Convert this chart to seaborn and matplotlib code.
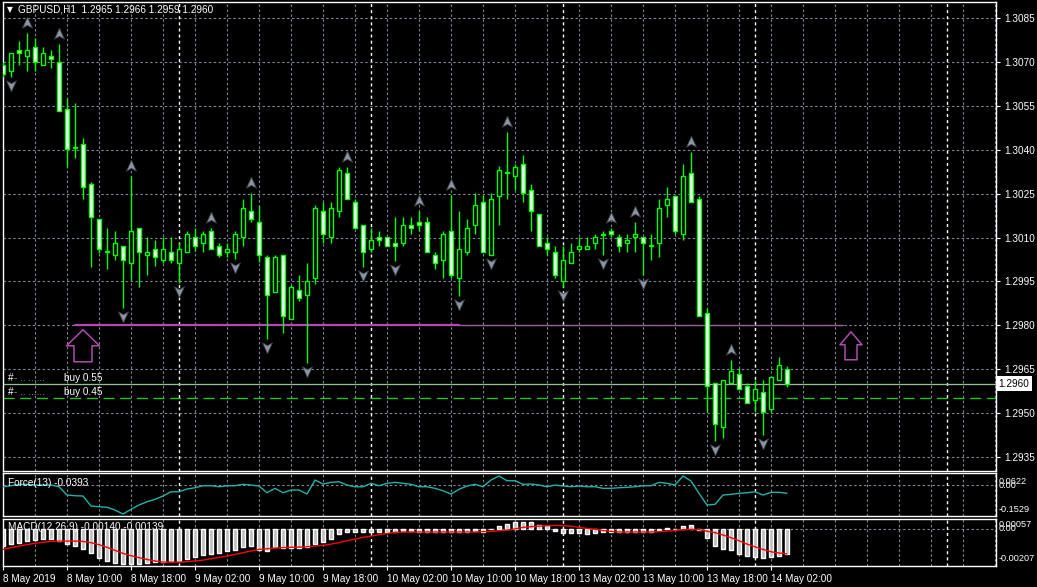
import numpy as np
import pandas as pd
import matplotlib.pyplot as plt
from matplotlib.path import Path
import seaborn as sns

# GBPUSD H1, bars from 8 May 2019 02:00 to 14 May 2019 04:00
opens = [1.30689, 1.30669, 1.30741, 1.30720, 1.30751, 1.30689, 1.30720, 1.30700, 1.30539, 1.30409,
         1.30419, 1.30283, 1.30163, 1.30050, 1.30040, 1.30071, 1.30013, 1.30132, 1.30040, 1.30061,
         1.30023, 1.30050, 1.30013, 1.30050, 1.30102, 1.30081, 1.30122, 1.30071, 1.30050, 1.30050,
         1.30102, 1.30191, 1.30153, 1.30033, 1.29914, 1.30040, 1.29821, 1.29921, 1.29903, 1.29962,
         1.30191, 1.30102, 1.30191, 1.30320, 1.30221, 1.30143, 1.30061, 1.30102, 1.30102, 1.30081,
         1.30081, 1.30143, 1.30153, 1.30153, 1.30040, 1.30023, 1.30122, 1.29962, 1.30050, 1.30143,
         1.30221, 1.30040, 1.30242, 1.30320, 1.30310, 1.30351, 1.30262, 1.30180, 1.30081, 1.30050,
         1.29951, 1.30013, 1.30061, 1.30061, 1.30081, 1.30112, 1.30122, 1.30102, 1.30081, 1.30102,
         1.30102, 1.30071, 1.30081, 1.30211, 1.30242, 1.30112, 1.30320, 1.30232, 1.29842, 1.29603,
         1.29452, 1.29603, 1.29634, 1.29592, 1.29545, 1.29572, 1.29514, 1.29613, 1.29650]
highs = [1.30700, 1.30730, 1.30771, 1.30799, 1.30782, 1.30751, 1.30741, 1.30761, 1.30577, 1.30560,
         1.30440, 1.30290, 1.30163, 1.30132, 1.30122, 1.30071, 1.30310, 1.30132, 1.30102, 1.30091,
         1.30102, 1.30102, 1.30081, 1.30122, 1.30132, 1.30122, 1.30132, 1.30081, 1.30081, 1.30122,
         1.30232, 1.30252, 1.30208, 1.30040, 1.30040, 1.30040, 1.29938, 1.29972, 1.30013, 1.30211,
         1.30221, 1.30221, 1.30341, 1.30341, 1.30232, 1.30143, 1.30132, 1.30122, 1.30102, 1.30170,
         1.30170, 1.30170, 1.30191, 1.30170, 1.30050, 1.30122, 1.30245, 1.30191, 1.30163, 1.30252,
         1.30245, 1.30252, 1.30344, 1.30460, 1.30351, 1.30382, 1.30283, 1.30180, 1.30102, 1.30071,
         1.30071, 1.30081, 1.30102, 1.30102, 1.30112, 1.30122, 1.30132, 1.30112, 1.30112, 1.30153,
         1.30102, 1.30112, 1.30232, 1.30273, 1.30242, 1.30351, 1.30392, 1.30242, 1.29859, 1.29603,
         1.29613, 1.29681, 1.29654, 1.29603, 1.29613, 1.29613, 1.29623, 1.29692, 1.29660]
lows = [1.30650, 1.30648, 1.30689, 1.30669, 1.30669, 1.30689, 1.30679, 1.30532, 1.30341, 1.30372,
        1.30232, 1.30000, 1.30047, 1.29992, 1.30023, 1.29859, 1.29955, 1.29931, 1.29972, 1.30003,
        1.30013, 1.30013, 1.29944, 1.30050, 1.30055, 1.30050, 1.30061, 1.30033, 1.30033, 1.30026,
        1.30071, 1.30153, 1.30016, 1.29753, 1.29914, 1.29774, 1.29821, 1.29883, 1.29671, 1.29941,
        1.30081, 1.30081, 1.30170, 1.30232, 1.30132, 1.29999, 1.30050, 1.30071, 1.30071, 1.30020,
        1.30071, 1.30112, 1.30122, 1.30050, 1.29992, 1.29962, 1.29962, 1.29900, 1.30040, 1.30112,
        1.30050, 1.30040, 1.30143, 1.30232, 1.30262, 1.30221, 1.30122, 1.30071, 1.30040, 1.29962,
        1.29931, 1.30013, 1.30050, 1.30061, 1.30061, 1.30040, 1.30102, 1.30050, 1.30050, 1.30050,
        1.29972, 1.30023, 1.30033, 1.30170, 1.30112, 1.30091, 1.30221, 1.29832, 1.29504, 1.29405,
        1.29415, 1.29603, 1.29582, 1.29534, 1.29504, 1.29425, 1.29504, 1.29613, 1.29590]
closes = [1.30659, 1.30730, 1.30730, 1.30741, 1.30700, 1.30730, 1.30710, 1.30532, 1.30402, 1.30405,
          1.30273, 1.30170, 1.30061, 1.30053, 1.30081, 1.30023, 1.30122, 1.30050, 1.30050, 1.30033,
          1.30061, 1.30023, 1.30061, 1.30112, 1.30071, 1.30112, 1.30061, 1.30040, 1.30061, 1.30112,
          1.30201, 1.30163, 1.30040, 1.29903, 1.30033, 1.29832, 1.29931, 1.29893, 1.29951, 1.30201,
          1.30112, 1.30201, 1.30331, 1.30232, 1.30132, 1.30050, 1.30091, 1.30091, 1.30071, 1.30071,
          1.30143, 1.30132, 1.30143, 1.30050, 1.30013, 1.30112, 1.29972, 1.30061, 1.30132, 1.30211,
          1.30050, 1.30232, 1.30331, 1.30323, 1.30341, 1.30252, 1.30191, 1.30071, 1.30061, 1.29972,
          1.30023, 1.30050, 1.30071, 1.30071, 1.30102, 1.30109, 1.30112, 1.30071, 1.30091, 1.30112,
          1.30081, 1.30074, 1.30201, 1.30232, 1.30122, 1.30310, 1.30221, 1.29832, 1.29592, 1.29463,
          1.29613, 1.29644, 1.29582, 1.29534, 1.29582, 1.29504, 1.29623, 1.29664, 1.29600]

force = [-0.0065, -0.0015, 0.0055, 0.0055, 0.0020, 0.0020, 0.0020, -0.0065, -0.0480, -0.0515,
         -0.0530, -0.1030, -0.1065, -0.1095, -0.1230, -0.1430, -0.1195, -0.0980, -0.0815, -0.0695,
         -0.0530, -0.0315, -0.0315, -0.0180, -0.0115, -0.0015, -0.0015, -0.0065, -0.0015, -0.0015,
         0.0055, 0.0020, -0.0030, -0.0365, -0.0145, -0.0365, -0.0230, -0.0230, -0.0430, 0.0270,
         0.0070, 0.0155, 0.0185, 0.0020, -0.0065, -0.0065, 0.0105, -0.0015, 0.0105, 0.0155,
         0.0105, 0.0055, -0.0065, -0.0065, -0.0145, -0.0265, -0.0430, -0.0195, -0.0030, 0.0055,
         -0.0065, 0.0270, 0.0470, 0.0235, 0.0235, 0.0055, 0.0070, 0.0020, -0.0065, 0.0020,
         -0.0030, -0.0065, -0.0030, -0.0065, -0.0065, -0.0145, -0.0145, -0.0115, -0.0095, -0.0065,
         -0.0015, -0.0015, 0.0155, 0.0105, 0.0020, 0.0470, 0.0220, -0.0395, -0.0980, -0.0945,
         -0.0480, -0.0445, -0.0395, -0.0365, -0.0315, -0.0480, -0.0345, -0.0345, -0.0393]

macd_hist = [-0.00095, -0.00084, -0.00076, -0.00067, -0.00061, -0.00056, -0.00056, -0.00067, -0.00084, -0.00095,
             -0.00112, -0.00136, -0.00164, -0.00177, -0.00192, -0.00196, -0.00196, -0.00196, -0.00192, -0.00183,
             -0.00183, -0.00177, -0.00179, -0.00166, -0.00159, -0.00145, -0.00142, -0.00132, -0.00123, -0.00117,
             -0.00102, -0.00093, -0.00117, -0.00123, -0.00099, -0.00104, -0.00108, -0.00108, -0.00099, -0.00084,
             -0.00071, -0.00056, -0.00028, -0.00014, -0.00014, -0.00018, -0.00018, -0.00018, -0.00014, -0.00014,
             -0.00013, -0.00013, -0.00014, -0.00014, -0.00014, -0.00018, -0.00018, -0.00014, -0.00014, -0.00013,
             -0.00014, -0.00001, 0.00017, 0.00029, 0.00042, 0.00042, 0.00042, 0.00023, 0.00017, -0.00009,
             -0.00020, -0.00020, -0.00024, -0.00028, -0.00020, -0.00014, -0.00018, -0.00018, -0.00018, -0.00018,
             -0.00018, -0.00018, -0.00005, 0.00006, 0.00001, 0.00017, 0.00023, -0.00005, -0.00052, -0.00095,
             -0.00114, -0.00117, -0.00140, -0.00151, -0.00155, -0.00164, -0.00159, -0.00151, -0.00140]
macd_signal = [-0.00114, -0.00104, -0.00095, -0.00087, -0.00080, -0.00074, -0.00069, -0.00067, -0.00067, -0.00067,
               -0.00069, -0.00076, -0.00087, -0.00102, -0.00119, -0.00136, -0.00149, -0.00160, -0.00170, -0.00179,
               -0.00185, -0.00185, -0.00185, -0.00183, -0.00179, -0.00174, -0.00166, -0.00159, -0.00151, -0.00142,
               -0.00132, -0.00123, -0.00114, -0.00110, -0.00106, -0.00104, -0.00102, -0.00101, -0.00099, -0.00095,
               -0.00091, -0.00084, -0.00076, -0.00065, -0.00056, -0.00046, -0.00039, -0.00031, -0.00024, -0.00018,
               -0.00016, -0.00016, -0.00016, -0.00016, -0.00016, -0.00016, -0.00016, -0.00016, -0.00016, -0.00016,
               -0.00014, -0.00013, -0.00009, -0.00005, 0.00001, 0.00010, 0.00014, 0.00017, 0.00019, 0.00021,
               0.00019, 0.00017, 0.00010, 0.00004, -0.00001, -0.00007, -0.00013, -0.00016, -0.00016, -0.00016,
               -0.00016, -0.00016, -0.00014, -0.00011, -0.00007, -0.00003, -0.00001, -0.00003, -0.00011, -0.00020,
               -0.00033, -0.00048, -0.00065, -0.00084, -0.00099, -0.00114, -0.00127, -0.00134, -0.00139]

# Bill Williams fractals (bar indexes)
up_fractals = [3, 7, 16, 26, 31, 43, 52, 56, 63, 76, 79, 86, 91]
down_fractals = [1, 15, 22, 29, 33, 38, 45, 49, 57, 61, 70, 75, 80, 89, 95]

price_ticks = [1.3085, 1.3070, 1.3055, 1.3040, 1.3025, 1.3010, 1.2995, 1.2980, 1.2965, 1.2950, 1.2935]
time_tick_bars = [0, 8, 16, 24, 32, 40, 48, 56, 64, 72, 80, 88, 96]
time_tick_labels = ['8 May 2019', '8 May 10:00', '8 May 18:00', '9 May 02:00', '9 May 10:00',
                    '9 May 18:00', '10 May 02:00', '10 May 10:00', '10 May 18:00', '13 May 02:00',
                    '13 May 10:00', '13 May 18:00', '14 May 02:00']
day_breaks = [22, 46, 70, 94, 118]

order_prices = [1.2960, 1.2955]
order_labels = ['buy 0.55', 'buy 0.45']
bid_price = 1.2960
trend_price = 1.2980
trend_bars = [9, 57, 105]
signal_arrow_bars = [10, 106]
signal_arrow_price = 1.2973

force_range = (-0.1529, 0.0622)
macd_range = (-0.00207, 0.00057)

df = pd.DataFrame({'open': opens, 'high': highs, 'low': lows, 'close': closes})
df['bar'] = np.arange(len(df))
bull = df['close'] >= df['open']

sns.set_theme(style='dark', rc={'axes.facecolor': 'black', 'figure.facecolor': 'black',
                                'axes.edgecolor': 'white', 'text.color': 'white'})
plt.rcParams['font.family'] = ['Liberation Sans', 'DejaVu Sans']

W, H = 1037, 587
fig = plt.figure(figsize=(W / 100, H / 100), dpi=100)


def box(x0, y0, x1, y1):
    return [x0 / W, 1 - y1 / H, (x1 - x0) / W, (y1 - y0) / H]


ax = fig.add_axes(box(2.5, 2, 996, 471))
ax_f = fig.add_axes(box(2.5, 473, 996, 516))
ax_m = fig.add_axes(box(2.5, 519, 996, 566))

GRID = '#7c8696'
DASH = (0, (2.2, 2.2))
xlim = (-0.0625, 124.125)
FS = 7.2

for a in (ax, ax_f, ax_m):
    a.set_facecolor('black')
    a.set_xlim(*xlim)
    for s in a.spines.values():
        s.set_color('white')
        s.set_linewidth(1)
    for b in range(0, 125, 4):
        a.axvline(b, color=GRID, lw=0.8, ls=DASH, zorder=1)
    for b in day_breaks:
        a.axvline(b, color='white', lw=1, ls=DASH, zorder=1.5)
    a.tick_params(left=False, bottom=False, labelleft=False, labelbottom=False)

# main price panel
ax.set_ylim(1.29302, 1.30905)
for p in price_ticks:
    ax.axhline(p, color=GRID, lw=0.8, ls=DASH, zorder=1)

ax.vlines(df['bar'], df['low'], df['high'], color='#00ff00', lw=1, zorder=3)
body = (df['close'] - df['open']).abs().clip(lower=0.000012)
ax.bar(df['bar'], body, bottom=df[['open', 'close']].min(axis=1), width=0.62,
       color=np.where(bull, 'black', 'white'), edgecolor='#00ff00', linewidth=1, zorder=4)

# trendline at 1.2980
ax.plot(trend_bars[:2], [trend_price] * 2, color='#b548b5', lw=1.6, zorder=2)
ax.plot(trend_bars[1:], [trend_price] * 2, color='#9a5e9a', lw=1, zorder=2)

# order lines
ax.axhline(order_prices[0], color='#22c422', lw=1, zorder=2)
ax.axhline(bid_price, color='#b0b0b0', lw=0.7, zorder=2.1)
ax.axhline(order_prices[1], color='#22c422', lw=1, ls=(0, (8, 4)), zorder=2)
ytr = ax.get_yaxis_transform()
for p, lab in zip(order_prices, order_labels):
    ax.text(0.0055, p + 0.00004, '#', transform=ytr, color='white', fontsize=FS,
            va='bottom', ha='left', zorder=6)
    ax.text(0.012, p + 0.00004, '- .. ......', transform=ytr, color='#9a9a9a', fontsize=FS,
            va='bottom', ha='left', zorder=6)
    ax.text(0.062, p + 0.00004, lab, transform=ytr, color='white', fontsize=FS,
            va='bottom', ha='left', zorder=6)

# fractal arrows
up_dart = Path([(0, 1), (0.8, -0.75), (0, -0.3), (-0.8, -0.75), (0, 1)],
               [Path.MOVETO, Path.LINETO, Path.LINETO, Path.LINETO, Path.CLOSEPOLY])
down_dart = Path([(0, -1), (0.8, 0.75), (0, 0.3), (-0.8, 0.75), (0, -1)],
                 [Path.MOVETO, Path.LINETO, Path.LINETO, Path.LINETO, Path.CLOSEPOLY])
ax.scatter(up_fractals, df['high'].iloc[up_fractals] + 0.00034, marker=up_dart, s=80,
           c='#8d95a3', edgecolors='#3c424c', linewidths=0.6, zorder=5)
ax.scatter(down_fractals, df['low'].iloc[down_fractals] - 0.00027, marker=down_dart, s=80,
           c='#8d95a3', edgecolors='#3c424c', linewidths=0.6, zorder=5)

# purple up arrows
big_arrow = Path([(0, 16), (16.5, 0), (9, 0), (9, -16), (-9, -16), (-9, 0), (-16.5, 0), (0, 16)],
                 [Path.MOVETO] + [Path.LINETO] * 6 + [Path.CLOSEPOLY])
small_arrow = Path([(0, 14), (11, 1), (6, 1), (6, -14), (-6, -14), (-6, 1), (-11, 1), (0, 14)],
                   [Path.MOVETO] + [Path.LINETO] * 6 + [Path.CLOSEPOLY])
ax.scatter([signal_arrow_bars[0]], [signal_arrow_price], marker=big_arrow, s=565,
           facecolors='none', edgecolors='#b04cb0', linewidths=1.1, zorder=5)
ax.scatter([signal_arrow_bars[1]], [signal_arrow_price], marker=small_arrow, s=407,
           facecolors='none', edgecolors='#b04cb0', linewidths=1.1, zorder=5)

ax.yaxis.tick_right()
ax.set_yticks(price_ticks)
ax.set_yticklabels([f'{p:.4f}' for p in price_ticks])
ax.tick_params(axis='y', right=True, labelright=True, length=3, width=0.8, colors='white',
               labelcolor='white', labelsize=FS, pad=3, direction='out')
ax.set_xticks([])
ax.text(1.0025, bid_price, f'{bid_price:.4f}', transform=ytr, ha='left',
        va='center', fontsize=FS, color='black',
        bbox=dict(boxstyle='square,pad=0.25', fc='white', ec='none'), zorder=7, clip_on=False)

fig.text(7 / W, 1 - 10 / H, '▼', fontsize=5.5, color='white', va='center', family=['DejaVu Sans'])
fig.text(18 / W, 1 - 10 / H, 'GBPUSD,H1  1.2965 1.2966 1.2959 1.2960', fontsize=FS,
         color='white', va='center')

# Force panel
ax_f.set_ylim(*force_range)
ax_f.axhline(0, color=GRID, lw=0.8, ls=DASH, zorder=1)
sns.lineplot(x=df['bar'], y=force, ax=ax_f, color='#20b2aa', lw=1, zorder=3)
ax_f.set_xlabel('')
ax_f.set_ylabel('')
ax_f.text(0.006, 0.77, f'Force(13) {force[-1]:.4f}', transform=ax_f.transAxes, fontsize=FS,
          color='white', va='center', ha='left', zorder=6)
for frac, lab in [(0.81, f'{force_range[1]:.4f}'), (0.70, '0.00'), (0.14, f'{force_range[0]:.4f}')]:
    ax_f.text(1.003, frac, lab, transform=ax_f.transAxes, fontsize=6.6, color='white',
              va='center', ha='left', clip_on=False)

# MACD panel
ax_m.set_ylim(*macd_range)
ax_m.axhline(0, color=GRID, lw=0.8, ls=DASH, zorder=1)
ax_m.bar(df['bar'], macd_hist, width=0.55, color='#c0c0c0', zorder=2)
sns.lineplot(x=df['bar'], y=macd_signal, ax=ax_m, color='#ff0000', lw=1, zorder=3)
ax_m.set_xlabel('')
ax_m.set_ylabel('')
ax_m.text(0.006, 0.83, f'MACD(12,26,9) {macd_hist[-1]:.5f} {macd_signal[-1]:.5f}',
          transform=ax_m.transAxes, fontsize=FS, color='white', va='center', ha='left', zorder=6)
for frac, lab in [(0.89, f'{macd_range[1]:.5f}'), (0.79, '0.00'), (0.15, f'{macd_range[0]:.5f}')]:
    ax_m.text(1.003, frac, lab, transform=ax_m.transAxes, fontsize=6.6, color='white',
              va='center', ha='left', clip_on=False)

ax_m.set_xticks(time_tick_bars)
ax_m.set_xticklabels(time_tick_labels, ha='left')
ax_m.tick_params(axis='x', bottom=True, labelbottom=True, length=3, width=0.8, colors='white',
                 labelcolor='white', labelsize=FS, pad=3, direction='out')

fig.savefig('out.png', dpi=100, facecolor='black')
